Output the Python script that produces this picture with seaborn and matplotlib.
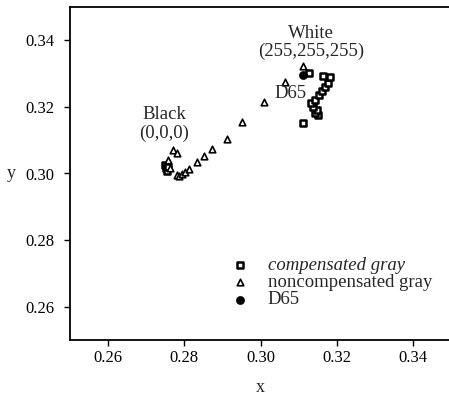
import matplotlib
matplotlib.use("Agg")
import pandas as pd
import seaborn as sns
from matplotlib import pyplot as plt

# chromaticity of the gray ramp
noncomp_x = [0.2771, 0.2780, 0.2758, 0.2763, 0.2780, 0.2787, 0.2794, 0.2803,
             0.2812, 0.2833, 0.2853, 0.2872, 0.2911, 0.2952, 0.3010, 0.3063,
             0.3111]
noncomp_y = [0.3071, 0.3062, 0.3041, 0.3016, 0.2995, 0.2992, 0.2999, 0.3005,
             0.3013, 0.3035, 0.3053, 0.3074, 0.3104, 0.3155, 0.3215, 0.3276,
             0.3324]

comp_x = [0.2749, 0.2752, 0.2755, 0.2757, 0.3111, 0.3152, 0.3143, 0.3148,
          0.3139, 0.3133, 0.3143, 0.3154, 0.3161, 0.3169, 0.3176, 0.3183,
          0.3163, 0.3126]
comp_y = [0.3026, 0.3016, 0.3008, 0.3020, 0.3151, 0.3176, 0.3181, 0.3191,
          0.3201, 0.3211, 0.3221, 0.3236, 0.3248, 0.3261, 0.3273, 0.3291,
          0.3293, 0.3301]

d65_x = [0.3111]
d65_y = [0.3296]

ticks = [0.26, 0.28, 0.30, 0.32, 0.34]

sns.set_style("ticks")
plt.rcParams['font.family'] = ['Liberation Serif', 'DejaVu Serif']

fig = plt.figure(figsize=(4.49, 4.08), dpi=100)
ax = fig.add_axes([70 / 449, 68 / 408, 381 / 449, 333 / 408])

comp = pd.DataFrame({"x": comp_x, "y": comp_y})
noncomp = pd.DataFrame({"x": noncomp_x, "y": noncomp_y})
d65 = pd.DataFrame({"x": d65_x, "y": d65_y})

sns.scatterplot(data=comp, x="x", y="y", ax=ax, marker="s", s=18,
                facecolor="white", edgecolor="black", linewidth=1.8,
                label="compensated gray", zorder=3)
sns.scatterplot(data=noncomp, x="x", y="y", ax=ax, marker="^", s=22,
                facecolor="white", edgecolor="black", linewidth=1.2,
                label="noncompensated gray", zorder=3)
sns.scatterplot(data=d65, x="x", y="y", ax=ax, marker="o", s=34,
                color="black", edgecolor="black", label="D65", zorder=4)

ax.set_xlim(0.25, 0.35)
ax.set_ylim(0.25, 0.35)
ax.set_xticks(ticks)
ax.set_yticks(ticks)
ax.set_xticklabels([f"{t:.2f}" for t in ticks])
ax.set_yticklabels([f"{t:.2f}" for t in ticks])
ax.tick_params(direction="out", length=4, width=1, labelsize=12,
               colors="black")
ax.tick_params(axis="y", pad=7)
for side in ["left", "bottom", "top", "right"]:
    ax.spines[side].set_color("black")
    ax.spines[side].set_linewidth(1.3)

ax.set_xlabel("x", fontsize=13, labelpad=9)
ax.set_ylabel("y", fontsize=13, rotation=0, labelpad=10, va="center")

# annotations
ax.text(0.3133, 0.3421, "White", ha="center", va="center", fontsize=13.5)
ax.text(0.3133, 0.3366, "(255,255,255)", ha="center", va="center",
        fontsize=13.5)
ax.text(0.2747, 0.3176, "Black", ha="center", va="center", fontsize=13.5)
ax.text(0.2747, 0.3120, "(0,0,0)", ha="center", va="center", fontsize=13.5)
ax.text(0.3078, 0.3241, "D65", ha="center", va="center", fontsize=13.5)

leg = ax.legend(loc="upper left", bbox_to_anchor=(221 / 449, 1 - 247 / 408),
                bbox_transform=fig.transFigure, frameon=False, fontsize=13.5,
                handletextpad=1.0, labelspacing=0.02, borderpad=0,
                handlelength=1.0)
leg.get_texts()[0].set_style("italic")

fig.savefig("out.png", dpi=100)
